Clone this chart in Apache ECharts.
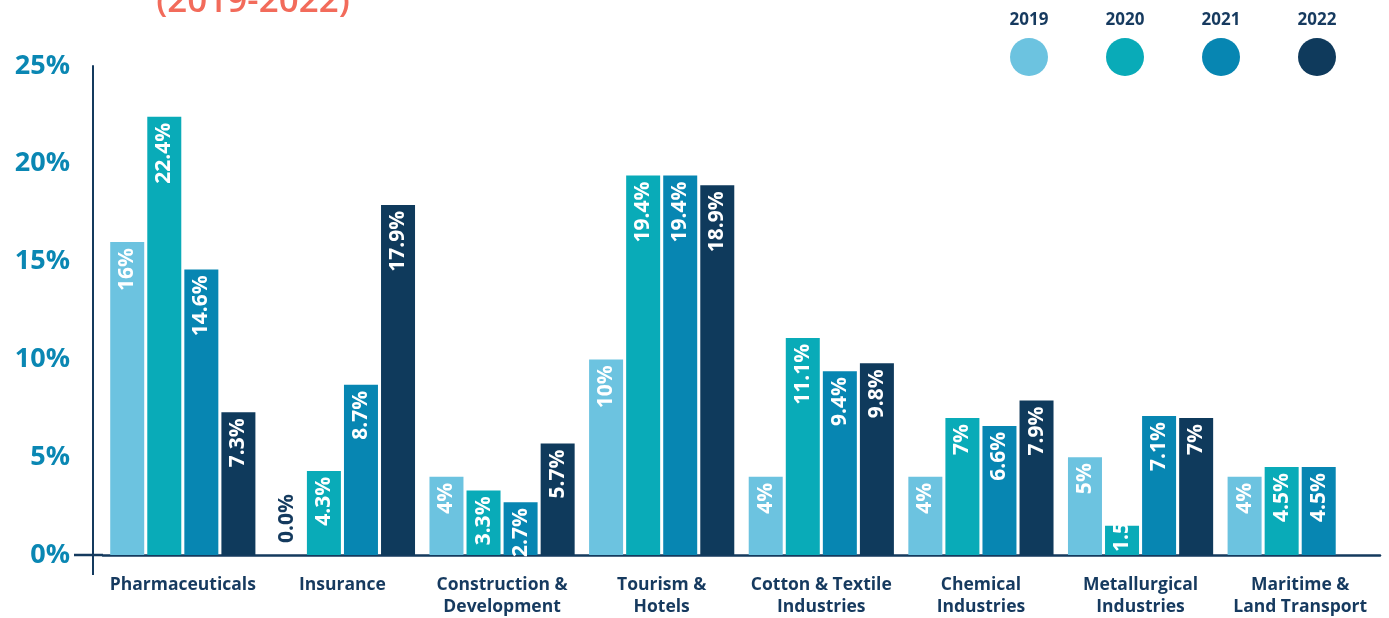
<!DOCTYPE html>
<html>
<head>
<meta charset="utf-8">
<script src="https://cdn.jsdelivr.net/npm/echarts@6/dist/echarts.min.js"></script>
<style>
html,body{margin:0;padding:0;background:#fff;}
#chart{width:1389px;height:618px;}
</style>
</head>
<body>
<div id="chart"></div>
<script>
const categories = ['Pharmaceuticals', 'Insurance', 'Construction &\nDevelopment', 'Tourism &\nHotels', 'Cotton & Textile\nIndustries', 'Chemical\nIndustries', 'Metallurgical\nIndustries', 'Maritime &\nLand Transport'];
const years = ['2019', '2020', '2021', '2022'];
const v2019 = [16, 0, 4, 10, 4, 4, 5, 4];
const v2020 = [22.4, 4.3, 3.3, 19.4, 11.1, 7, 1.5, 4.5];
const v2021 = [14.6, 8.7, 2.7, 19.4, 9.4, 6.6, 7.1, 4.5];
const v2022 = [7.3, 17.9, 5.7, 18.9, 9.8, 7.9, 7, null];
const yTicks = [0, 5, 10, 15, 20, 25];
const titleText = '(2019-2022)';

const colors = ['#6cc3e0', '#09abb8', '#0786b2', '#0f3a5c'];
const navy = '#143a5e';
const FONT = '"Open Sans", sans-serif';

const seriesValues = [v2019, v2020, v2021, v2022];

function buildData(arr) {
  return arr.map(v => {
    if (v === null) return '-';
    if (v === 0) {
      return { value: v, label: { position: 'insideBottom', align: 'left', color: navy, distance: 12 } };
    }
    if (v < 2) {
      return { value: v, label: { position: 'insideBottom', align: 'left', distance: 3 } };
    }
    return v;
  });
}

const chart = echarts.init(document.getElementById('chart'), null, { renderer: 'canvas' });

const series = years.map((y, i) => ({
  name: y,
  type: 'bar',
  data: buildData(seriesValues[i]),
  barWidth: 34,
  barGap: '9%',
  itemStyle: { color: colors[i] },
  label: {
    show: true,
    position: 'insideTop',
    rotate: 90,
    align: 'right',
    verticalAlign: 'middle',
    distance: 6,
    color: '#ffffff',
    fontFamily: FONT,
    fontWeight: 'bold',
    fontSize: 21,
    formatter: p => (p.value === 0 ? '0.0%' : p.value + '%')
  }
}));

const option = {
  animation: false,
  backgroundColor: '#ffffff',
  grid: { left: 103, right: 9, top: 66, bottom: 57 },
  xAxis: {
    type: 'category',
    data: categories,
    axisLine: { show: true, lineStyle: { color: navy, width: 2.5 } },
    axisTick: { show: false },
    axisLabel: {
      interval: 0,
      margin: 19,
      color: '#163a5f',
      fontFamily: FONT,
      fontWeight: 'bold',
      fontSize: 17.5,
      lineHeight: 22
    }
  },
  yAxis: {
    type: 'value',
    min: 0,
    max: 25,
    interval: 5,
    offset: 10,
    axisLine: { show: true, lineStyle: { color: navy, width: 2 } },
    axisTick: { show: false },
    splitLine: { show: false },
    axisLabel: {
      margin: 23,
      color: '#0a87b3',
      fontFamily: FONT,
      fontWeight: 'bold',
      fontSize: 27,
      formatter: v => (yTicks.indexOf(v) >= 0 ? v + '%' : '')
    }
  },
  series: series
};

chart.setOption(option);

const y0 = chart.convertToPixel({ yAxisIndex: 0 }, 0);
const graphics = [
  { type: 'line', shape: { x1: 74, y1: y0, x2: 103, y2: y0 }, style: { stroke: navy, lineWidth: 2.5 } },
  { type: 'line', shape: { x1: 93, y1: y0, x2: 93, y2: y0 + 20 }, style: { stroke: navy, lineWidth: 2 } },
  {
    type: 'text', x: 253, y: 20,
    style: { text: titleText, fill: '#f26b5b', font: '600 35px ' + FONT, textAlign: 'center', textVerticalAlign: 'bottom' }
  }
];
years.forEach((y, i) => {
  const cx = 1029 + i * 96;
  graphics.push({ type: 'circle', shape: { cx: cx, cy: 57, r: 19 }, style: { fill: colors[i] } });
  graphics.push({
    type: 'text', x: cx, y: 20,
    style: { text: y, fill: '#163a5f', font: 'bold 17px ' + FONT, textAlign: 'center', textVerticalAlign: 'middle' }
  });
});
chart.setOption({ graphic: graphics });
</script>
</body>
</html>
